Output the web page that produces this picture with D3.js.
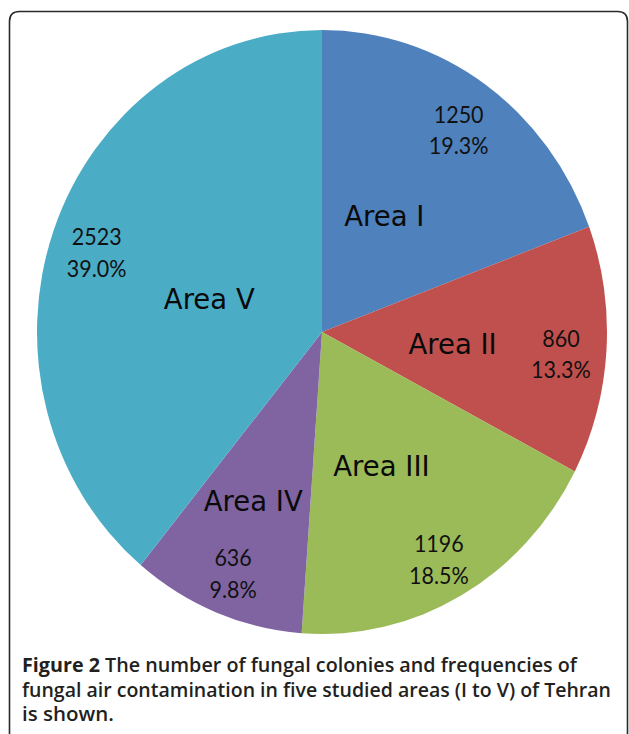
<!DOCTYPE html>
<html>
<head>
<meta charset="utf-8">
<script src="https://cdn.jsdelivr.net/npm/d3@7"></script>
<style>
  html, body { margin: 0; padding: 0; background: #fff; }
  svg { display: block; }
</style>
</head>
<body>
<svg id="chart" width="629" height="734"></svg>
<script>
// ---- data ----
const categories = ["Area I", "Area II", "Area III", "Area IV", "Area V"];
const counts = [1250, 860, 1196, 636, 2523];
const percentLabels = ["19.3%", "13.3%", "18.5%", "9.8%", "39.0%"];
const colors = ["#4F81BD", "#C0504D", "#9BBB59", "#8064A2", "#4BACC6"];
const captionBold = "Figure 2";
const captionLines = [
  " The number of fungal colonies and frequencies of",
  "fungal air contamination in five studied areas (I to V) of Tehran",
  "is shown."
];

// ---- layout (label placement tuning, relative to radius) ----
const nameLabelRadius = [0.44, 0.46, 0.49, 0.61, 0.41];
const nameLabelAngleShift = [-5, 1.5, 4, 1.5, -4.5]; // degrees
const valueLabelRadius = 0.84;

const svg = d3.select("#chart");
const W = 629, H = 734;

// frame (rounded border, open at the bottom)
const fx0 = 9.5, fx1 = 627.5, fy0 = 11.5, rr = 10;
svg.append("path")
  .attr("d", `M${fx0},${H} L${fx0},${fy0 + rr} Q${fx0},${fy0} ${fx0 + rr},${fy0} L${fx1 - rr},${fy0} Q${fx1},${fy0} ${fx1},${fy0 + rr} L${fx1},${H}`)
  .attr("fill", "none")
  .attr("stroke", "#2a2a2a")
  .attr("stroke-width", 1.6);

// pie (slightly stretched vertically like the reference)
const cx = 322, cy = 332, R = 285, sy = 302 / 285;
const g = svg.append("g").attr("transform", `translate(${cx},${cy}) scale(1,${sy})`);

const pie = d3.pie().value(d => d).sort(null);
const arcs = pie(counts);
const arc = d3.arc().innerRadius(0).outerRadius(R);

g.selectAll("path.slice")
  .data(arcs)
  .join("path")
  .attr("class", "slice")
  .attr("d", arc)
  .attr("fill", (d, i) => colors[i]);

const toXY = (ang, r) => [Math.sin(ang) * r, -Math.cos(ang) * r];

// category names
g.selectAll("text.name")
  .data(arcs)
  .join("text")
  .attr("class", "name")
  .attr("text-anchor", "middle")
  .attr("dominant-baseline", "central")
  .attr("font-family", "'DejaVu Sans', Verdana, sans-serif")
  .attr("font-size", 27.5)
  .attr("fill", "#0a0a0a")
  .each(function (d, i) {
    const a = (d.startAngle + d.endAngle) / 2 + nameLabelAngleShift[i] * Math.PI / 180;
    const [x, y] = toXY(a, R * nameLabelRadius[i]);
    d3.select(this).attr("x", x).attr("y", y).text(categories[i]);
  });

// value + percent labels
const vg = g.selectAll("g.val")
  .data(arcs)
  .join("g")
  .attr("class", "val")
  .attr("transform", d => {
    const a = (d.startAngle + d.endAngle) / 2;
    const [x, y] = toXY(a, R * valueLabelRadius);
    return `translate(${x},${y})`;
  });
vg.append("text")
  .attr("text-anchor", "middle")
  .attr("y", -1)
  .attr("font-family", "Lato, 'Open Sans', sans-serif")
  .attr("font-size", 21.5)
  .attr("fill", "#111")
  .text((d, i) => counts[i]);
vg.append("text")
  .attr("text-anchor", "middle")
  .attr("y", 29)
  .attr("font-family", "Lato, 'Open Sans', sans-serif")
  .attr("font-size", 21.5)
  .attr("fill", "#111")
  .text((d, i) => percentLabels[i]);

// caption
const capX = 22, capY = [672, 697, 721];
const capWidths = [555, 589, 92];
captionLines.forEach((line, i) => {
  const t = svg.append("text")
    .attr("x", capX)
    .attr("y", capY[i])
    .attr("font-family", "'Open Sans', 'Noto Sans', sans-serif")
    .attr("font-size", 19)
    .attr("fill", "#231f20");
  if (i === 0) {
    t.append("tspan").attr("font-weight", 700).text(captionBold);
  }
  t.append("tspan").attr("font-weight", 600).text(line);
  t.attr("textLength", capWidths[i]).attr("lengthAdjust", "spacingAndGlyphs");
});
</script>
</body>
</html>
